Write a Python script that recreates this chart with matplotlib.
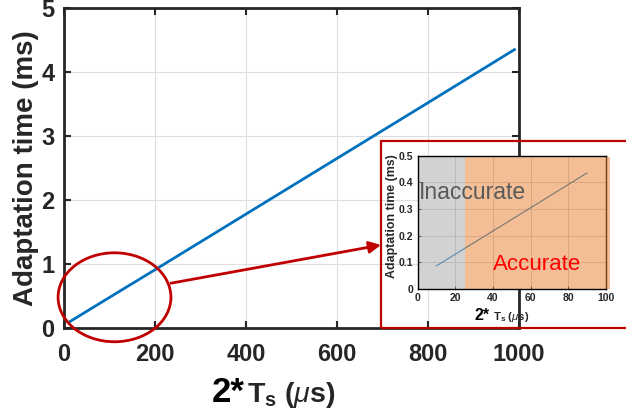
import numpy as np
import matplotlib
matplotlib.use("Agg")
import matplotlib.pyplot as plt
from matplotlib.patches import Ellipse, Rectangle

plt.rcParams["font.family"] = ["Liberation Sans", "DejaVu Sans"]
plt.rcParams["mathtext.fontset"] = "custom"
plt.rcParams["mathtext.rm"] = "Liberation Sans:bold"
plt.rcParams["mathtext.it"] = "Liberation Sans:italic"
plt.rcParams["mathtext.bf"] = "Liberation Sans:bold"

# data
ts_us = [10, 90, 200, 400, 600, 800, 990]
adapt_ms = [0.087, 0.435, 0.91, 1.78, 2.65, 3.52, 4.35]

ts_zoom = [10, 90]
adapt_zoom = [0.087, 0.435]

x_ticks = [0, 200, 400, 600, 800, 1000]
y_ticks = [0, 1, 2, 3, 4, 5]
zoom_x_ticks = [0, 20, 40, 60, 80, 100]
zoom_y_ticks = [0, 0.1, 0.2, 0.3, 0.4, 0.5]
zoom_y_labels = ["0", "0.1", "0.2", "0.3", "0.4", "0.5"]
inaccurate_limit = 25

dark = "#262626"
blue = "#0072BD"
red = "#C00000"

fig = plt.figure(figsize=(6.26, 4.18), dpi=100)

# main axes
ax = fig.add_axes([64 / 626, 90 / 418, 455 / 626, 320 / 418])
ax.plot(ts_us, adapt_ms, color=blue, lw=2)
ax.set_xlim(0, 1000)
ax.set_ylim(0, 5)
ax.set_xticks(x_ticks)
ax.set_yticks(y_ticks)
ax.grid(True, color="#dfdfdf", lw=0.8)
ax.set_axisbelow(True)
for s in ax.spines.values():
    s.set_linewidth(2)
    s.set_color(dark)
ax.tick_params(direction="in", length=5, width=1.5, color=dark,
               top=True, right=True, labelsize=17, labelcolor=dark)
ax.tick_params(axis="x", pad=11)
ax.tick_params(axis="y", pad=7)
for lab in ax.get_xticklabels() + ax.get_yticklabels():
    lab.set_fontweight("bold")
ax.set_ylabel("Adaptation time (ms)", fontsize=20, fontweight="bold",
              color=dark, labelpad=1.5)
# x label: big "2*" followed by smaller "T_s (us)"
ax.text(0.397, -0.231, "2*", transform=ax.transAxes, ha="right",
        va="baseline", fontsize=25, fontweight="bold", color="black")
ax.text(0.403, -0.231, r"T$_\mathrm{s}$ ($\mu$s)", transform=ax.transAxes,
        ha="left", va="baseline", fontsize=20.5, fontweight="bold", color=dark)

# red ellipse around the low range
ell = Ellipse((111, 0.48), 248, 1.39, transform=ax.transData, fill=False,
              edgecolor=red, lw=2, clip_on=False, zorder=5)
ax.add_patch(ell)

# arrow to the zoom box
ax.annotate("", xy=(381 / 626, 1 - 245 / 418), xycoords="figure fraction",
            xytext=(235, 0.70), textcoords="data",
            arrowprops=dict(arrowstyle="-|>,head_length=0.7,head_width=0.35",
                            color=red, lw=2, shrinkA=0, shrinkB=0),
            zorder=6)

# red frame around zoom
frame = Rectangle((381 / 626, 90 / 418), 0.5, 187 / 418,
                  transform=fig.transFigure, fill=False, edgecolor=red,
                  lw=1.6, zorder=10)
fig.patches.append(frame)

# zoom axes
ax2 = fig.add_axes([417.7 / 626, 129 / 418, 188 / 626, 133.3 / 418])
ax2.plot(ts_zoom, adapt_zoom, color=blue, lw=0.8, zorder=1)
ax2.set_xlim(0, 100)
ax2.set_ylim(0, 0.5)
ax2.set_xticks(zoom_x_ticks)
ax2.set_yticks(zoom_y_ticks)
ax2.set_yticklabels(zoom_y_labels)
ax2.grid(True, color="#c8c8c8", lw=0.6, zorder=0.5)
ax2.set_axisbelow(True)
ax2.add_patch(Rectangle((0, 0), inaccurate_limit, 0.5, facecolor="#a7a7a7",
                        alpha=0.5, lw=0, zorder=2))
ax2.add_patch(Rectangle((inaccurate_limit, 0), 102.3 - inaccurate_limit, 0.494,
                        facecolor="#e97d2d", alpha=0.5, lw=0, zorder=2,
                        clip_on=False))
for s in ax2.spines.values():
    s.set_linewidth(1)
    s.set_color("black")
ax2.spines["right"].set_zorder(1)
ax2.tick_params(direction="in", length=2, width=0.6, labelsize=7.5,
                labelcolor=dark, pad=3)
for lab in ax2.get_xticklabels() + ax2.get_yticklabels():
    lab.set_fontweight("bold")
ax2.set_ylabel("Adaptation time (ms)", fontsize=8.9, fontweight="bold",
               color=dark, labelpad=1, y=0.544)
ax2.text(0.385, -0.233, "2*", transform=ax2.transAxes, ha="right",
         va="baseline", fontsize=11.5, fontweight="bold", color="black")
ax2.text(0.398, -0.233, r"T$_\mathrm{s}$ ($\mu$s)", transform=ax2.transAxes,
         ha="left", va="baseline", fontsize=8.2, fontweight="bold", color=dark)
ax2.text(0.7, 0.338, "Inaccurate", fontsize=16.5, color="#595959", zorder=4)
ax2.text(40, 0.071, "Accurate", fontsize=16, color="#ff0000", zorder=4)

fig.savefig("out.png", dpi=100)
